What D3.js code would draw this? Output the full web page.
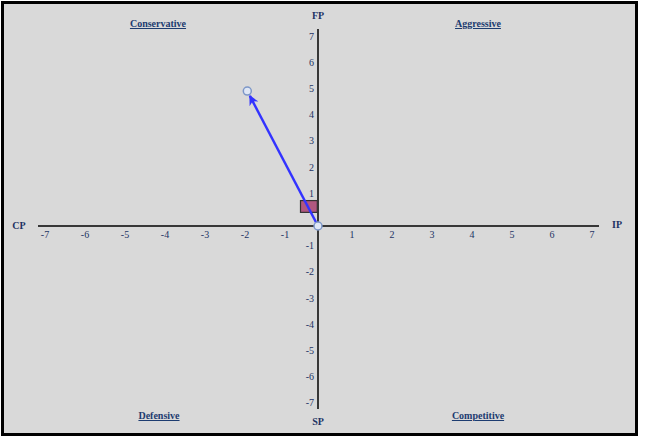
<!DOCTYPE html>
<html><head><meta charset="utf-8">
<script src="https://cdn.jsdelivr.net/npm/d3@7"></script>
<style>html,body{margin:0;padding:0;background:#fff;}svg{display:block;}</style>
</head><body>
<svg id="chart" width="650" height="444"></svg>
<script>
// ---- data ----
const xTicks = [-7,-6,-5,-4,-3,-2,-1,1,2,3,4,5,6,7];
const yTicks = [-7,-6,-5,-4,-3,-2,-1,1,2,3,4,5,6,7];
const axisTitles = ["FP","SP","CP","IP"];
const quadrantNames = ["Conservative","Aggressive","Defensive","Competitive"];
const vectorEnd = [-1.78, 5.15];
const origin = [0, 0];
const boxX = [-0.45, -0.03];
const boxY = [0.52, 0.97];

const svg = d3.select("#chart");
const x = d3.scaleLinear().domain([-7,7]).range([38.5,598.5]);
const y = d3.scaleLinear().domain([-7,7]).range([409.4,42.6]);
const x0 = 318, y0 = y(0);

svg.append("rect").attr("x",2.5).attr("y",2.5).attr("width",634).attr("height",432)
  .attr("fill","#d9d9d9").attr("stroke","#000").attr("stroke-width",3);

const navy = "#1d3364";
// axes lines
svg.append("line").attr("x1",38).attr("x2",599).attr("y1",y0).attr("y2",y0)
  .attr("stroke","#000").attr("stroke-width",1.5);
svg.append("line").attr("x1",x0).attr("x2",x0).attr("y1",29).attr("y2",409)
  .attr("stroke","#000").attr("stroke-width",1.5);

const font = "'Liberation Serif','Times New Roman',serif";
// x tick labels
svg.selectAll("text.xt").data(xTicks).join("text").attr("class","xt")
  .attr("x",d=>x(d) + (d<0? 6.5 : -6.5)).attr("y",y0+12)
  .attr("text-anchor","middle").attr("font-family",font).attr("font-size",10)
  .attr("fill",navy).text(d=>d);
// y tick labels
svg.selectAll("text.yt").data(yTicks).join("text").attr("class","yt")
  .attr("x",x0-4).attr("y",d=>y(d)-3)
  .attr("text-anchor","end").attr("font-family",font).attr("font-size",10)
  .attr("fill",navy).text(d=>d);

// axis titles
const titlePos = [[318,19],[318,425],[19,229],[617,228]];
svg.selectAll("text.at").data(axisTitles).join("text").attr("class","at")
  .attr("x",(d,i)=>titlePos[i][0]).attr("y",(d,i)=>titlePos[i][1])
  .attr("text-anchor","middle").attr("font-family",font).attr("font-size",10)
  .attr("font-weight","bold").attr("fill",navy).text(d=>d);

// quadrant names
const qPos = [[158,27],[478,27],[159,419],[478,419]];
svg.selectAll("text.q").data(quadrantNames).join("text").attr("class","q")
  .attr("x",(d,i)=>qPos[i][0]).attr("y",(d,i)=>qPos[i][1])
  .attr("text-anchor","middle").attr("font-family",font).attr("font-size",10)
  .attr("font-weight","bold").attr("text-decoration","underline")
  .attr("fill","#1d3c70").text(d=>d);

// box
svg.append("rect").attr("x",x(boxX[0])).attr("y",y(boxY[1]))
  .attr("width",x(boxX[1])-x(boxX[0])).attr("height",y(boxY[0])-y(boxY[1]))
  .attr("fill","#b0577f").attr("stroke","#333").attr("stroke-width",1.2);

// arrow
const defs = svg.append("defs");
defs.append("marker").attr("id","ah").attr("viewBox","0 0 10 10")
  .attr("refX",9).attr("refY",5).attr("markerWidth",4).attr("markerHeight",4)
  .attr("orient","auto").attr("markerUnits","strokeWidth")
  .append("path").attr("d","M0,0 L10,5 L0,10 L3,5 Z").attr("fill","#3333ff");
const ox = x0, oy = y0, ex = x(vectorEnd[0]), ey = y(vectorEnd[1]);
const dx = ex-ox, dy = ey-oy, len = Math.hypot(dx,dy);
const sh = 5.5;
svg.append("line").attr("x1",ox).attr("y1",oy)
  .attr("x2",ex - dx/len*sh).attr("y2",ey - dy/len*sh)
  .attr("stroke","#3333ff").attr("stroke-width",2.5).attr("marker-end","url(#ah)");

// points
svg.selectAll("circle.p").data([origin, vectorEnd]).join("circle").attr("class","p")
  .attr("cx",d=>d[0]===0?x0:x(d[0])).attr("cy",d=>y(d[1])).attr("r",4)
  .attr("fill","#dfe7f5").attr("stroke","#7d97c8").attr("stroke-width",1.5);
</script>
</body></html>
